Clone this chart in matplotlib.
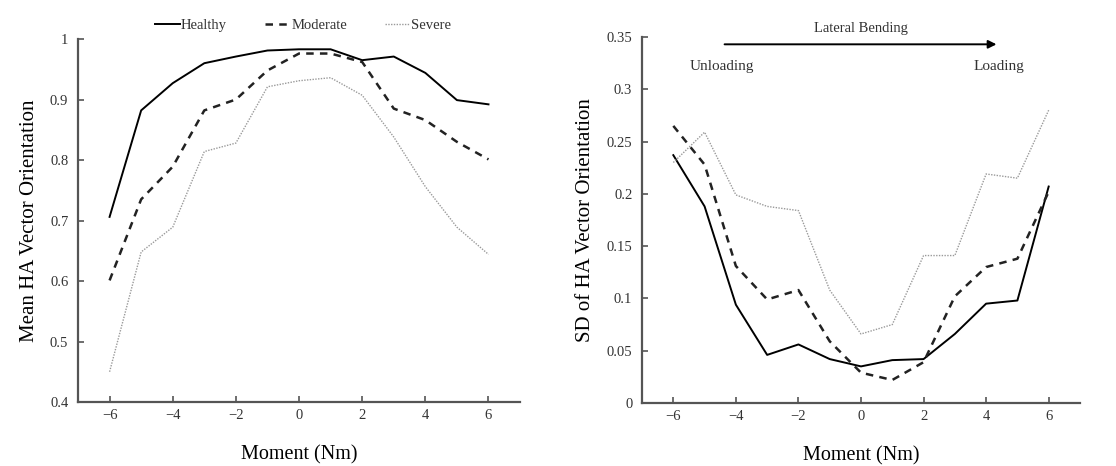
import numpy as np
import matplotlib
matplotlib.use("Agg")
import matplotlib.pyplot as plt
from matplotlib.ticker import FuncFormatter

plt.rcParams["font.family"] = ["Liberation Serif", "DejaVu Serif"]

# Moment steps (Nm)
moment = [-6, -5, -4, -3, -2, -1, 0, 1, 2, 3, 4, 5, 6]

# Mean HA vector orientation
mean_healthy = [0.706, 0.882, 0.927, 0.960, 0.971, 0.981, 0.983, 0.983, 0.965, 0.971, 0.944, 0.899, 0.892]
mean_moderate = [0.601, 0.735, 0.789, 0.882, 0.900, 0.948, 0.976, 0.976, 0.962, 0.885, 0.866, 0.830, 0.801]
mean_severe = [0.450, 0.648, 0.689, 0.814, 0.828, 0.921, 0.931, 0.936, 0.907, 0.838, 0.756, 0.689, 0.644]

# SD of HA vector orientation
sd_healthy = [0.237, 0.188, 0.094, 0.046, 0.056, 0.042, 0.035, 0.041, 0.042, 0.066, 0.095, 0.098, 0.207]
sd_moderate = [0.265, 0.228, 0.131, 0.099, 0.108, 0.059, 0.029, 0.022, 0.039, 0.102, 0.130, 0.138, 0.202]
sd_severe = [0.230, 0.259, 0.199, 0.188, 0.184, 0.108, 0.066, 0.075, 0.141, 0.141, 0.219, 0.215, 0.280]

series_names = ["Healthy", "Moderate", "Severe"]
x_ticks = [-6, -4, -2, 0, 2, 4, 6]
mean_yticks = [0.4, 0.5, 0.6, 0.7, 0.8, 0.9, 1.0]
sd_yticks = [0, 0.05, 0.1, 0.15, 0.2, 0.25, 0.3, 0.35]

styles = [
    dict(color="black", lw=1.4, linestyle="-"),
    dict(color="#222222", lw=1.8, linestyle=(0, (3, 2.5))),
    dict(color="#9a9a9a", lw=1.0, linestyle=(0, (1, 1))),
]

fig = plt.figure(figsize=(11.16, 4.66), dpi=100)
ax1 = fig.add_axes([0.0699, 0.1373, 0.3961, 0.7790])
ax2 = fig.add_axes([0.5753, 0.1352, 0.3924, 0.7854])

fmt = FuncFormatter(lambda v, p: f"{v:g}")
axis_col = "#555555"


def style_axes(ax, yticks, ylabel):
    ax.set_xlim(-7, 7)
    ax.set_ylim(yticks[0], yticks[-1])
    ax.set_xticks(x_ticks)
    ax.set_yticks(yticks)
    ax.yaxis.set_major_formatter(fmt)
    for s in ["top", "right"]:
        ax.spines[s].set_visible(False)
    for s in ["left", "bottom"]:
        ax.spines[s].set_color(axis_col)
        ax.spines[s].set_linewidth(1.6)
    ax.tick_params(direction="in", length=4, width=1.2, color=axis_col,
                   labelsize=10.5, labelcolor="#333333")
    ax.tick_params(axis="y", pad=7)
    ax.tick_params(axis="x", pad=5)
    ax.set_xlabel("Moment (Nm)", fontsize=14.5, labelpad=17)
    ax.set_ylabel(ylabel, fontsize=15, labelpad=8)


# Left: mean
for vals, name, st in zip([mean_healthy, mean_moderate, mean_severe], series_names, styles):
    ax1.plot(moment, vals, label=name, clip_on=False, **st)
style_axes(ax1, mean_yticks, "Mean HA Vector Orientation")
leg = ax1.legend(loc="lower center", bbox_to_anchor=(0.509, 1.0), ncol=3, frameon=False,
                 fontsize=10.5, handlelength=1.7, handletextpad=0.1, columnspacing=2.6,
                 borderaxespad=0.1)
for t in leg.get_texts():
    t.set_color("#333333")

# Right: SD
for vals, name, st in zip([sd_healthy, sd_moderate, sd_severe], series_names, styles):
    ax2.plot(moment, vals, label=name, clip_on=False, **st)
style_axes(ax2, sd_yticks, "SD of HA Vector Orientation")
ax2.annotate("", xy=(4.42, 0.343), xytext=(-4.45, 0.343),
             arrowprops=dict(arrowstyle="-|>", color="black", lw=1.4, mutation_scale=12),
             annotation_clip=False)
ax2.text(0.0, 0.358, "Lateral Bending", ha="center", va="center", fontsize=10.5,
         color="#333333", clip_on=False)
ax2.text(-4.45, 0.322, "Unloading", ha="center", va="center", fontsize=11, color="#333333")
ax2.text(4.42, 0.322, "Loading", ha="center", va="center", fontsize=11, color="#333333")

fig.savefig("out.png", dpi=100)
